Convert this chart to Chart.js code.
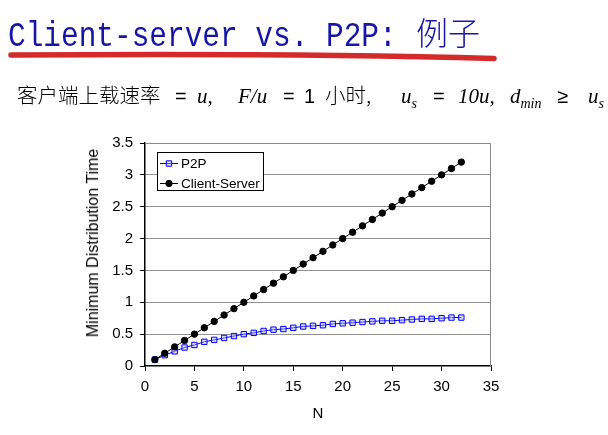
<!DOCTYPE html>
<html>
<head>
<meta charset="utf-8">
<script src="https://cdn.jsdelivr.net/npm/chart.js@4.4.0/dist/chart.umd.min.js"></script>
<style>
  html, body { margin: 0; padding: 0; background: #fff; }
  #page { position: relative; width: 608px; height: 435px; overflow: hidden; }
  #chart { position: absolute; left: 0; top: 0; }
  .title {
    position: absolute; left: 8px; top: 18px;
    font-family: "Liberation Mono", monospace; font-size: 29.45px; line-height: 30px;
    color: #1616a6; white-space: pre;
    transform: scale(1, 1.21); transform-origin: 0 0;
  }
  .title-zh {
    position: absolute; left: 416px; top: 15px;
    font-family: "Noto Sans CJK SC", sans-serif; font-size: 32px; line-height: 32px;
    font-weight: 300; color: #1616a6; white-space: pre;
  }
  .subline {
    position: absolute; left: 0; top: 82px; white-space: pre;
    font-family: "Liberation Serif", serif; font-size: 21px; line-height: 24px; color: #000;
  }
  .subline > span { display: inline-block; }
  .cjk { font-family: "Noto Sans CJK SC", sans-serif; font-size: 20.5px; font-weight: 300; }
  .it { font-family: "Liberation Serif", serif; font-style: italic; font-size: 21px; }
  .rm { font-family: "Liberation Sans", sans-serif; font-size: 20px; }
  .it sub { font-size: 14px; vertical-align: -5px; line-height: 0; }
  .ytitle {
    position: absolute; left: 93px; top: 243px; white-space: nowrap;
    font-family: "Liberation Sans", Arial, sans-serif; font-size: 16px; color: #000;
    transform: translate(-50%, -50%) rotate(-90deg);
  }
</style>
</head>
<body>
<div id="page">
  <canvas id="chart" width="608" height="435"></canvas>
  <div class="title">Client-server vs. P2P:</div>
  <div class="title-zh">例子</div>
  <svg style="position:absolute;left:0;top:0" width="608" height="80">
    <path d="M11 55 Q 300 53 494 58.5" stroke="#d42a2a" stroke-width="5.5" fill="none" stroke-linecap="round"/>
  </svg>
  <div class="subline"><span style="width:17px"></span><span class="cjk" style="width:158px">客户端上载速率</span><span class="rm" style="width:22px">=</span><span class="it" style="width:41px">u,</span><span class="it" style="width:45px">F/u</span><span class="rm" style="width:21px">=</span><span class="rm" style="width:21px">1</span><span class="cjk" style="width:76px">小时,</span><span class="it" style="width:32px">u<sub>s</sub></span><span class="rm" style="width:25px">=</span><span class="it" style="width:52px">10u,</span><span class="it" style="width:47px">d<sub>min</sub></span><span class="rm" style="width:31px">≥</span><span class="it">u<sub>s</sub></span></div>
  <div class="ytitle">Minimum Distribution Time</div>
</div>
<script>
// 数据: N = 客户端数量
const nValues = [1, 2, 3, 4, 5, 6, 7, 8, 9, 10, 11, 12, 13, 14, 15, 16,
                 17, 18, 19, 20, 21, 22, 23, 24, 25, 26, 27, 28, 29, 30, 31, 32];
const p2pTimes = [0.10, 0.17, 0.23, 0.29, 0.33, 0.38, 0.41, 0.44, 0.47, 0.50, 0.52, 0.55, 0.57, 0.58, 0.60, 0.62,
                  0.63, 0.64, 0.66, 0.67, 0.68, 0.69, 0.70, 0.71, 0.71, 0.72, 0.73, 0.74, 0.74, 0.75, 0.76, 0.76];
const csTimes = [0.1, 0.2, 0.3, 0.4, 0.5, 0.6, 0.7, 0.8, 0.9, 1.0, 1.1, 1.2, 1.3, 1.4, 1.5, 1.6,
                 1.7, 1.8, 1.9, 2.0, 2.1, 2.2, 2.3, 2.4, 2.5, 2.6, 2.7, 2.8, 2.9, 3.0, 3.1, 3.2];
const xTicks = ['0', '5', '10', '15', '20', '25', '30', '35'];
const yTicks = ['0', '0.5', '1', '1.5', '2', '2.5', '3', '3.5'];

const tickFont = { family: '"Liberation Sans", Arial, sans-serif', size: 15 };

function toPoints(xs, ys) {
    return xs.map(function(x, i) { return { x: x, y: ys[i] }; });
}

// Borde gris arriba y a la derecha del área
const frame = {
    id: 'frame',
    beforeDatasetsDraw(chart) {
        const a = chart.chartArea;
        const ctx = chart.ctx;
        ctx.save();
        ctx.strokeStyle = '#8a8a8a';
        ctx.lineWidth = 1;
        ctx.beginPath();
        ctx.moveTo(a.left, a.top + 0.5);
        ctx.lineTo(a.right - 0.5, a.top + 0.5);
        ctx.lineTo(a.right - 0.5, a.bottom);
        ctx.stroke();
        ctx.restore();
    }
};

// Leyenda con recuadro dentro del gráfico
const boxLegend = {
    id: 'boxLegend',
    afterDraw(chart) {
        const a = chart.chartArea;
        const ctx = chart.ctx;
        const x = a.left + 12, y = a.top + 9, w = 106, h = 38;
        ctx.save();
        ctx.fillStyle = '#fff';
        ctx.fillRect(x, y, w, h);
        ctx.strokeStyle = '#000';
        ctx.lineWidth = 1;
        ctx.strokeRect(x + 0.5, y + 0.5, w, h);
        chart.data.datasets.forEach(function(ds, i) {
            const ry = y + 11 + i * 20 + 0.5;
            ctx.strokeStyle = ds.borderColor;
            ctx.lineWidth = 1;
            ctx.beginPath();
            ctx.moveTo(x + 3, ry);
            ctx.lineTo(x + 21, ry);
            ctx.stroke();
            ctx.fillStyle = ds.pointBackgroundColor;
            ctx.strokeStyle = ds.pointBorderColor;
            ctx.lineWidth = ds.pointBorderWidth;
            Chart.helpers.drawPoint(ctx, {
                pointStyle: ds.pointStyle,
                radius: ds.pointRadius,
                borderWidth: ds.pointBorderWidth,
                rotation: 0
            }, x + 12, ry);
            ctx.fillStyle = '#000';
            ctx.font = '13.5px "Liberation Sans", Arial, sans-serif';
            ctx.textBaseline = 'middle';
            ctx.fillText(ds.label, x + 24, ry + 0.5);
        });
        ctx.restore();
    }
};

new Chart(document.getElementById('chart'), {
    type: 'line',
    data: {
        datasets: [{
            label: 'P2P',
            data: toPoints(nValues, p2pTimes),
            borderColor: '#0000ff',
            borderWidth: 1,
            pointStyle: 'rect',
            pointRadius: 3.8,
            pointBorderWidth: 1,
            pointBorderColor: '#0000ff',
            pointBackgroundColor: 'rgba(170, 170, 255, 0.45)',
            order: 1
        }, {
            label: 'Client-Server',
            data: toPoints(nValues, csTimes),
            borderColor: '#000000',
            borderWidth: 1,
            pointStyle: 'circle',
            pointRadius: 3.2,
            pointBorderWidth: 1,
            pointBorderColor: '#000000',
            pointBackgroundColor: '#000000',
            order: 0
        }]
    },
    options: {
        responsive: false,
        animation: false,
        events: [],
        layout: {
            padding: { left: 83, right: 117, top: 143, bottom: 8 }
        },
        plugins: {
            legend: { display: false },
            tooltip: { enabled: false }
        },
        scales: {
            x: {
                type: 'linear',
                min: 0,
                max: 35,
                afterFit: function(scale) { scale.height = 61; },
                afterBuildTicks: function(scale) {
                    scale.ticks = xTicks.map(function(t) { return { value: Number(t) }; });
                },
                ticks: {
                    color: '#000',
                    padding: 7,
                    maxRotation: 0,
                    font: tickFont,
                    callback: function(v) { return xTicks[xTicks.indexOf(String(v))]; }
                },
                grid: {
                    drawOnChartArea: false,
                    drawTicks: true,
                    tickLength: 5,
                    tickColor: '#000'
                },
                border: { color: '#000', width: 1.5 },
                title: {
                    display: true,
                    text: 'N',
                    color: '#000',
                    padding: { top: 4, bottom: 4 },
                    font: { family: '"Liberation Sans", Arial, sans-serif', size: 15 }
                }
            },
            y: {
                min: 0,
                max: 3.5,
                afterFit: function(scale) { scale.width = 62; },
                afterBuildTicks: function(scale) {
                    scale.ticks = yTicks.map(function(t) { return { value: Number(t) }; });
                },
                ticks: {
                    color: '#000',
                    padding: 7,
                    font: tickFont,
                    callback: function(v) { return yTicks[yTicks.indexOf(String(v))]; }
                },
                grid: {
                    drawTicks: true,
                    tickLength: 5,
                    tickColor: '#000',
                    color: function(c) {
                        if (c.tick.value === 0) return 'rgba(0,0,0,0)';
                        if (c.tick.value === 3.5) return '#8a8a8a';
                        return '#222';
                    }
                },
                border: { color: '#000', width: 1.5, dash: [1, 1] }
            }
        }
    },
    plugins: [frame, boxLegend]
});
</script>
</body>
</html>
